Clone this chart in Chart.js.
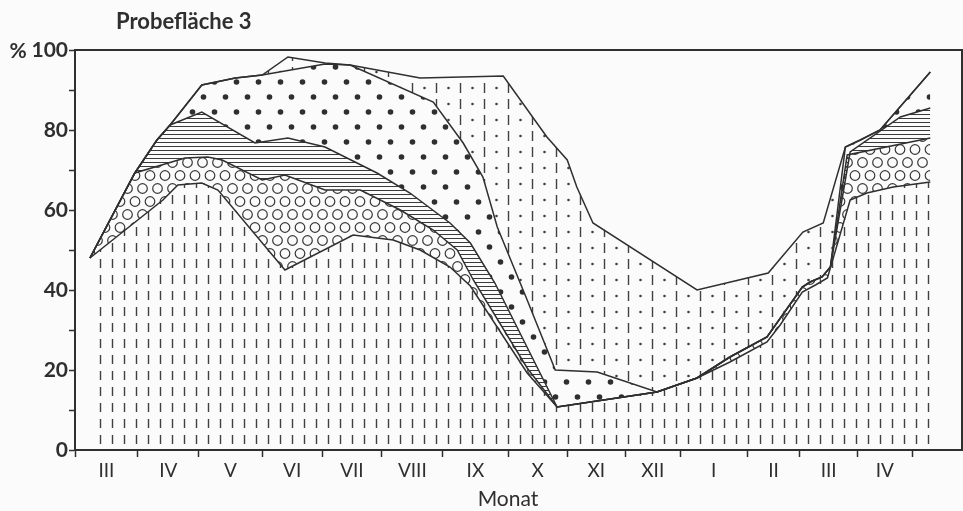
<!DOCTYPE html>
<html>
<head>
<meta charset="utf-8">
<script src="https://cdn.jsdelivr.net/npm/chart.js@4.4.1/dist/chart.umd.min.js"></script>
<style>
  html, body { margin: 0; padding: 0; background: #fbfbfb; }
  canvas { display: block; }
</style>
</head>
<body>
<canvas id="c" width="963" height="511"></canvas>
<script>
// ---------- texts ----------
const chartTitle = "Probefläche 3";
const yUnit = "%";
const xTitle = "Monat";

// ---------- x axis: month boundaries (axis units) and month names ----------
const monthEdges  = [0, 1.05, 2.07, 3.13, 4.13, 5.13, 6.15, 7.24, 8.23, 9.20, 10.12, 11.24, 12.12, 13.08, 14.00];
const monthLabels = ["III", "IV", "V", "VI", "VII", "VIII", "IX", "X", "XI", "XII", "I", "II", "III", "IV"];
const xMax = 14.83;

// ---------- y axis ----------
const yMin = 0, yMax = 100, yStep = 10, yLabelStep = 20;

// ---------- cumulative layer boundaries (upper edge of each layer, %) ----------
// layer 1: vertical dashes (bottom)
const layer1X = [0.25, 1.47, 1.72, 2.12, 2.39, 3.51, 4.65, 5.32, 5.77, 6.27, 6.61, 7.56, 8.06, 9.73, 10.40, 10.95, 11.57, 11.79, 12.16, 12.38, 12.58, 12.96, 13.24, 13.68, 14.30];
const layer1Y = [48, 62.5, 66.25, 66.75, 65, 45, 53.75, 52.5, 50, 45.75, 41, 19.25, 10.75, 14.5, 18, 22, 27, 31.25, 39.5, 41.25, 43, 62.5, 64.25, 65.75, 67];

// layer 2: open circles
const layer2X = [0.25, 1.00, 1.84, 2.22, 2.46, 3.13, 3.51, 4.18, 4.77, 5.44, 5.99, 6.39, 6.66, 7.56, 8.06, 9.73, 10.40, 10.95, 11.57, 12.16, 12.29, 12.49, 12.63, 12.91, 14.30];
const layer2Y = [48, 69.25, 73, 73.25, 72.5, 67.5, 68.75, 65, 65, 60, 55, 50, 42.5, 20.5, 10.75, 14.5, 18, 23.25, 28.25, 40.75, 42, 43.25, 45.75, 73.75, 78];

// layer 3: horizontal hatching
const layer3X = [0.25, 1.00, 1.37, 1.59, 2.12, 3.01, 3.56, 4.18, 5.05, 5.60, 6.27, 6.61, 7.02, 8.06, 9.73, 10.40, 10.95, 11.57, 12.16, 12.29, 12.49, 12.63, 12.96, 13.80, 14.30];
const layer3Y = [48, 69.25, 77.5, 81.25, 84.5, 76.75, 78, 75.75, 69.25, 64.25, 56.75, 51.75, 41.75, 10.75, 14.5, 18, 23.25, 28.25, 40.75, 42, 43.25, 45.75, 74.5, 83.25, 85.5];

// layer 4: large dots
const layer4X = [0.25, 1.00, 1.37, 1.59, 2.12, 2.68, 3.13, 4.18, 4.60, 5.99, 6.49, 6.82, 7.06, 7.56, 8.03, 8.73, 9.73, 10.40, 10.95, 11.57, 12.16, 12.29, 12.49, 12.63, 12.88, 13.13, 13.46, 14.30];
const layer4Y = [48, 69.25, 77.5, 81.25, 91.25, 93, 93.75, 96.5, 96.25, 87, 76.75, 68.25, 55.75, 37.5, 20, 19.5, 14.5, 18, 23.25, 28.25, 40.75, 42, 43.25, 45.75, 75.75, 77.5, 80, 94.5];

// layer 5: dashes and dots (top)
const layer5X = [0.25, 1.00, 1.37, 1.59, 2.12, 2.68, 3.13, 3.56, 4.18, 4.60, 5.77, 7.16, 7.89, 8.23, 8.39, 8.66, 10.40, 11.59, 12.17, 12.51, 12.88, 13.13, 13.46, 14.30];
const layer5Y = [48, 69.25, 77.5, 81.25, 91.25, 93, 93.75, 98.25, 96.75, 96.25, 93, 93.5, 78.25, 72.5, 65.75, 56.75, 40, 44.25, 54.5, 56.75, 75.75, 77.5, 80, 94.5];

// ---------- helpers ----------
const INK = "#2f2f2f";
const pts = (xs, ys) => xs.map((x, i) => ({ x: x, y: ys[i] }));

const canvas = document.getElementById("c");
const mainCtx = canvas.getContext("2d");
function makePattern(w, h, draw) {
  const c = document.createElement("canvas");
  c.width = w; c.height = h;
  const g = c.getContext("2d");
  g.strokeStyle = INK; g.fillStyle = INK;
  draw(g);
  return mainCtx.createPattern(c, "repeat");
}
const patDashes = makePattern(12, 16, g => {
  g.lineWidth = 1.4; g.strokeStyle = "#404040";
  g.beginPath(); g.moveTo(4.5, 3); g.lineTo(4.5, 12); g.stroke();
});
const patCircles = makePattern(15, 26, g => {
  g.lineWidth = 1.2; g.strokeStyle = "#383838";
  const circ = (x, y) => { g.beginPath(); g.arc(x, y, 4.8, 0, Math.PI * 2); g.stroke(); };
  [[7.5, 6.5], [0, 19.5], [15, 19.5], [7.5, 32.5], [0, -6.5], [15, -6.5]].forEach(p => circ(p[0], p[1]));
});
const patHatch = makePattern(8, 4, g => {
  g.lineWidth = 1; g.strokeStyle = "#3a3a3a";
  g.beginPath(); g.moveTo(0, 2.5); g.lineTo(8, 2.5); g.stroke();
});
const patDots = makePattern(22, 30, g => {
  g.fillStyle = "#2f2f2f";
  g.beginPath(); g.arc(5.5, 7, 2.8, 0, Math.PI * 2); g.fill();
  g.beginPath(); g.arc(16.5, 22, 2.8, 0, Math.PI * 2); g.fill();
});
const patDashDot = makePattern(24, 16, g => {
  g.lineWidth = 1.4; g.strokeStyle = "#404040"; g.fillStyle = "#404040";
  g.beginPath(); g.moveTo(4.5, 3); g.lineTo(4.5, 13); g.stroke();
  g.beginPath(); g.arc(16.5, 8, 1.3, 0, Math.PI * 2); g.fill();
});

// tick values for x axis: month edges (tick marks) + month centres (labels)
const monthMids = monthEdges.slice(0, -1).map((v, i) => (v + monthEdges[i + 1]) / 2);
const labelMap = new Map(monthMids.map((v, i) => [v, monthLabels[i]]));
const edgeSet = new Set(monthEdges);
const xTickValues = monthEdges.concat(monthMids).sort((a, b) => a - b);

const lineStyle = { borderColor: INK, borderWidth: 1.5, pointRadius: 0, tension: 0 };

const textPlugin = {
  id: "texts",
  afterDraw(chart) {
    const ctx = chart.ctx;
    const a = chart.chartArea;
    ctx.save();
    // frame (top + right)
    ctx.strokeStyle = INK; ctx.lineWidth = 2;
    ctx.beginPath(); ctx.moveTo(a.left, a.top); ctx.lineTo(a.right, a.top); ctx.lineTo(a.right, a.bottom); ctx.stroke();
    ctx.fillStyle = INK;
    ctx.textBaseline = "alphabetic";
    ctx.textAlign = "left";
    ctx.font = "bold 22px Lato";
    ctx.fillText(chartTitle, 116, 29);
    ctx.font = "bold 21px Lato";
    ctx.textAlign = "center";
    ctx.fillText(yUnit, 18, 58);
    ctx.font = "21px Lato";
    ctx.fillText(xTitle, 508, 506);
    ctx.restore();
  }
};

function build() {
  new Chart(canvas, {
    type: "line",
    data: {
      datasets: [
        Object.assign({ data: pts(layer1X, layer1Y), fill: "origin", backgroundColor: patDashes }, lineStyle),
        Object.assign({ data: pts(layer2X, layer2Y), fill: "-1", backgroundColor: patCircles }, lineStyle),
        Object.assign({ data: pts(layer3X, layer3Y), fill: "-1", backgroundColor: patHatch }, lineStyle),
        Object.assign({ data: pts(layer4X, layer4Y), fill: "-1", backgroundColor: patDots }, lineStyle),
        Object.assign({ data: pts(layer5X, layer5Y), fill: "-1", backgroundColor: patDashDot }, lineStyle)
      ]
    },
    options: {
      responsive: false,
      devicePixelRatio: 1,
      animation: false,
      layout: { padding: { top: 50, right: 1, left: 0, bottom: 0 } },
      plugins: { legend: { display: false }, tooltip: { enabled: false }, title: { display: false } },
      scales: {
        x: {
          type: "linear", min: 0, max: xMax,
          afterBuildTicks: s => { s.ticks = xTickValues.map(v => ({ value: v })); },
          afterFit: s => { s.height = 61; },
          ticks: {
            autoSkip: false, maxRotation: 0, minRotation: 0, padding: 2,
            color: INK, font: { family: "Lato", size: 19 },
            callback: v => labelMap.has(v) ? labelMap.get(v) : ""
          },
          grid: {
            drawOnChartArea: false, tickLength: 7, tickWidth: 1.5,
            tickColor: c => (c.tick && edgeSet.has(c.tick.value)) ? INK : "rgba(0,0,0,0)"
          },
          border: { color: INK, width: 2 }
        },
        y: {
          min: yMin, max: yMax,
          afterFit: s => { s.width = 75; },
          ticks: {
            stepSize: yStep, padding: 1, color: INK,
            font: { family: "Lato", size: 21, weight: "bold" },
            callback: v => (v % yLabelStep === 0 ? String(v) : "")
          },
          grid: { drawOnChartArea: false, tickLength: 6, tickWidth: 1.5, tickColor: INK },
          border: { color: INK, width: 2 }
        }
      }
    },
    plugins: [textPlugin]
  });
}

if (document.fonts && document.fonts.load) {
  Promise.all([document.fonts.load("bold 22px Lato"), document.fonts.load("21px Lato")])
    .then(build, build);
} else {
  build();
}
</script>
</body>
</html>
